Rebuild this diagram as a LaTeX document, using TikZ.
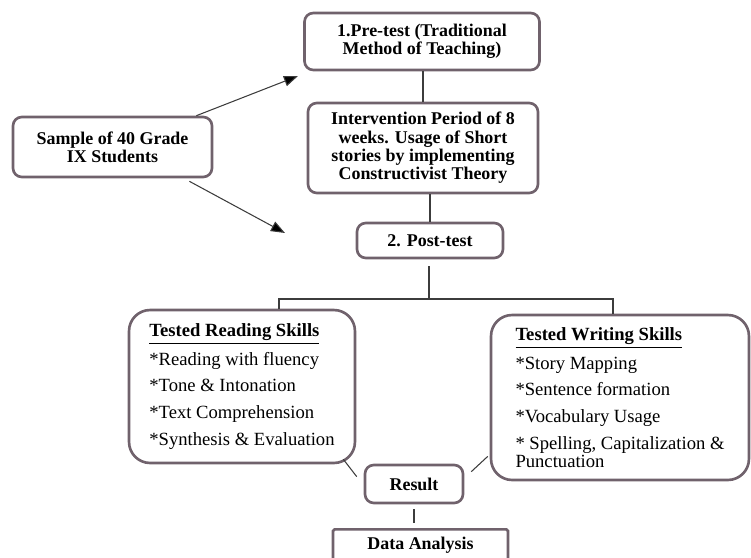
\documentclass[tikz,border=0pt]{standalone}
\usepackage{fontspec}
\setmainfont{Liberation Serif}
\usetikzlibrary{positioning, arrows.meta, calc}
\definecolor{boxline}{RGB}{112,98,108}
\definecolor{linkgray}{RGB}{60,60,60}

\begin{document}
\begin{tikzpicture}[
    x=0.02cm, y=-0.02cm, % one unit is one pixel of the sketch
    % Styles
    box/.style={ % Rounded box with bold text
        draw=boxline,
        line width=1.5pt,
        rounded corners=5pt,
        fill=white,
        align=center,
        inner sep=2pt,
        font=\fontsize{10.2}{10.4}\selectfont\bfseries
    },
    skillbox/.style={ % Large boxes listing the skills
        box,
        rounded corners=12pt,
        align=left,
        font=\fontsize{10.6}{15.2}\selectfont
    },
    link/.style={ % Plain connector
        draw=linkgray,
        line width=0.6pt
    },
    arrow/.style={
        link,
        -{Triangle[length=8pt,width=6pt,fill=black]}
    }
]
    \useasboundingbox (0,0) rectangle (751,558);
    \clip (0,0) rectangle (751,558);

    % Boxes
    \node[box, minimum width=4.7cm, minimum height=1.14cm] (pretest) at (422,41.5)
        {1.Pre-test (Traditional\\ Method of Teaching)};
    \node[box, minimum width=4.6cm, minimum height=1.8cm] (interv) at (423,148)
        {Intervention Period of 8\\ weeks. Usage of Short\\ stories by implementing\\ Constructivist Theory};
    \node[box, minimum width=3.98cm, minimum height=1.2cm] (sample) at (112.5,147)
        {Sample of 40 Grade\\ IX Students};
    \node[box, minimum width=2.92cm, minimum height=0.7cm] (posttest) at (430,240.5)
        {2. Post-test};
    \node[skillbox, minimum width=4.52cm, minimum height=3.06cm] (reading) at (242,386.5)
        {\textbf{\underline{Tested Reading Skills}}\\[1pt]
         *Reading with fluency\\
         *Tone \& Intonation\\
         *Text Comprehension\\
         *Synthesis \& Evaluation};
    \node[skillbox, minimum width=5.16cm, minimum height=3.3cm] (writing) at (620,397.5)
        {\textbf{\underline{Tested Writing Skills}}\\[1pt]
         *Story Mapping\\
         *Sentence formation\\
         *Vocabulary Usage\\
         * Spelling, Capitalization \&\\[-5pt]
         Punctuation};
    \node[box, minimum width=1.96cm, minimum height=0.76cm] (result) at (414,484)
        {Result};
    \node[box, rounded corners=1pt, anchor=north, minimum width=3.5cm,
        text height=0.3cm, text depth=0.6cm, inner ysep=0.1cm] (analysis) at (420.5,528)
        {Data Analysis};

    % Arrows from the sample
    \coordinate (pretip) at (298,76);
    \coordinate (posttip) at (285,233);
    \draw[arrow] ([xshift=-17pt*0.567]sample.north east) -- (pretip);
    \draw[arrow] ([xshift=-24pt*0.567,yshift=-3pt*0.567]sample.south east) -- (posttip);

    % Vertical links
    \draw[link] (pretest.south -| interv.north) -- (interv.north);
    \draw[link] (interv.south -| posttest.north) -- (posttest.north);

    % Split towards the skill boxes
    \coordinate (split) at (429,299);
    \coordinate (splitl) at (279,299);
    \coordinate (splitr) at (613,299);
    \draw[link] ([yshift=-7pt*0.567]posttest.south -| split) -- (split);
    \draw[link] (reading.north -| splitl) -- (splitl) -- (splitr) -- (writing.north -| splitr);

    % Links into the result
    \draw[link] ([shift={(-13pt*0.567,5pt*0.567)}]reading.south east)
        -- ([shift={(-7pt*0.567,-13pt*0.567)}]result.north west);
    \draw[link] ([shift={(-2pt*0.567,25pt*0.567)}]writing.south west)
        -- ([shift={(7pt*0.567,-8pt*0.567)}]result.north east);
    \draw[link] ([yshift=-5pt*0.567]result.south) -- ([yshift=5pt*0.567]result.south |- analysis.north);
\end{tikzpicture}
\end{document}
